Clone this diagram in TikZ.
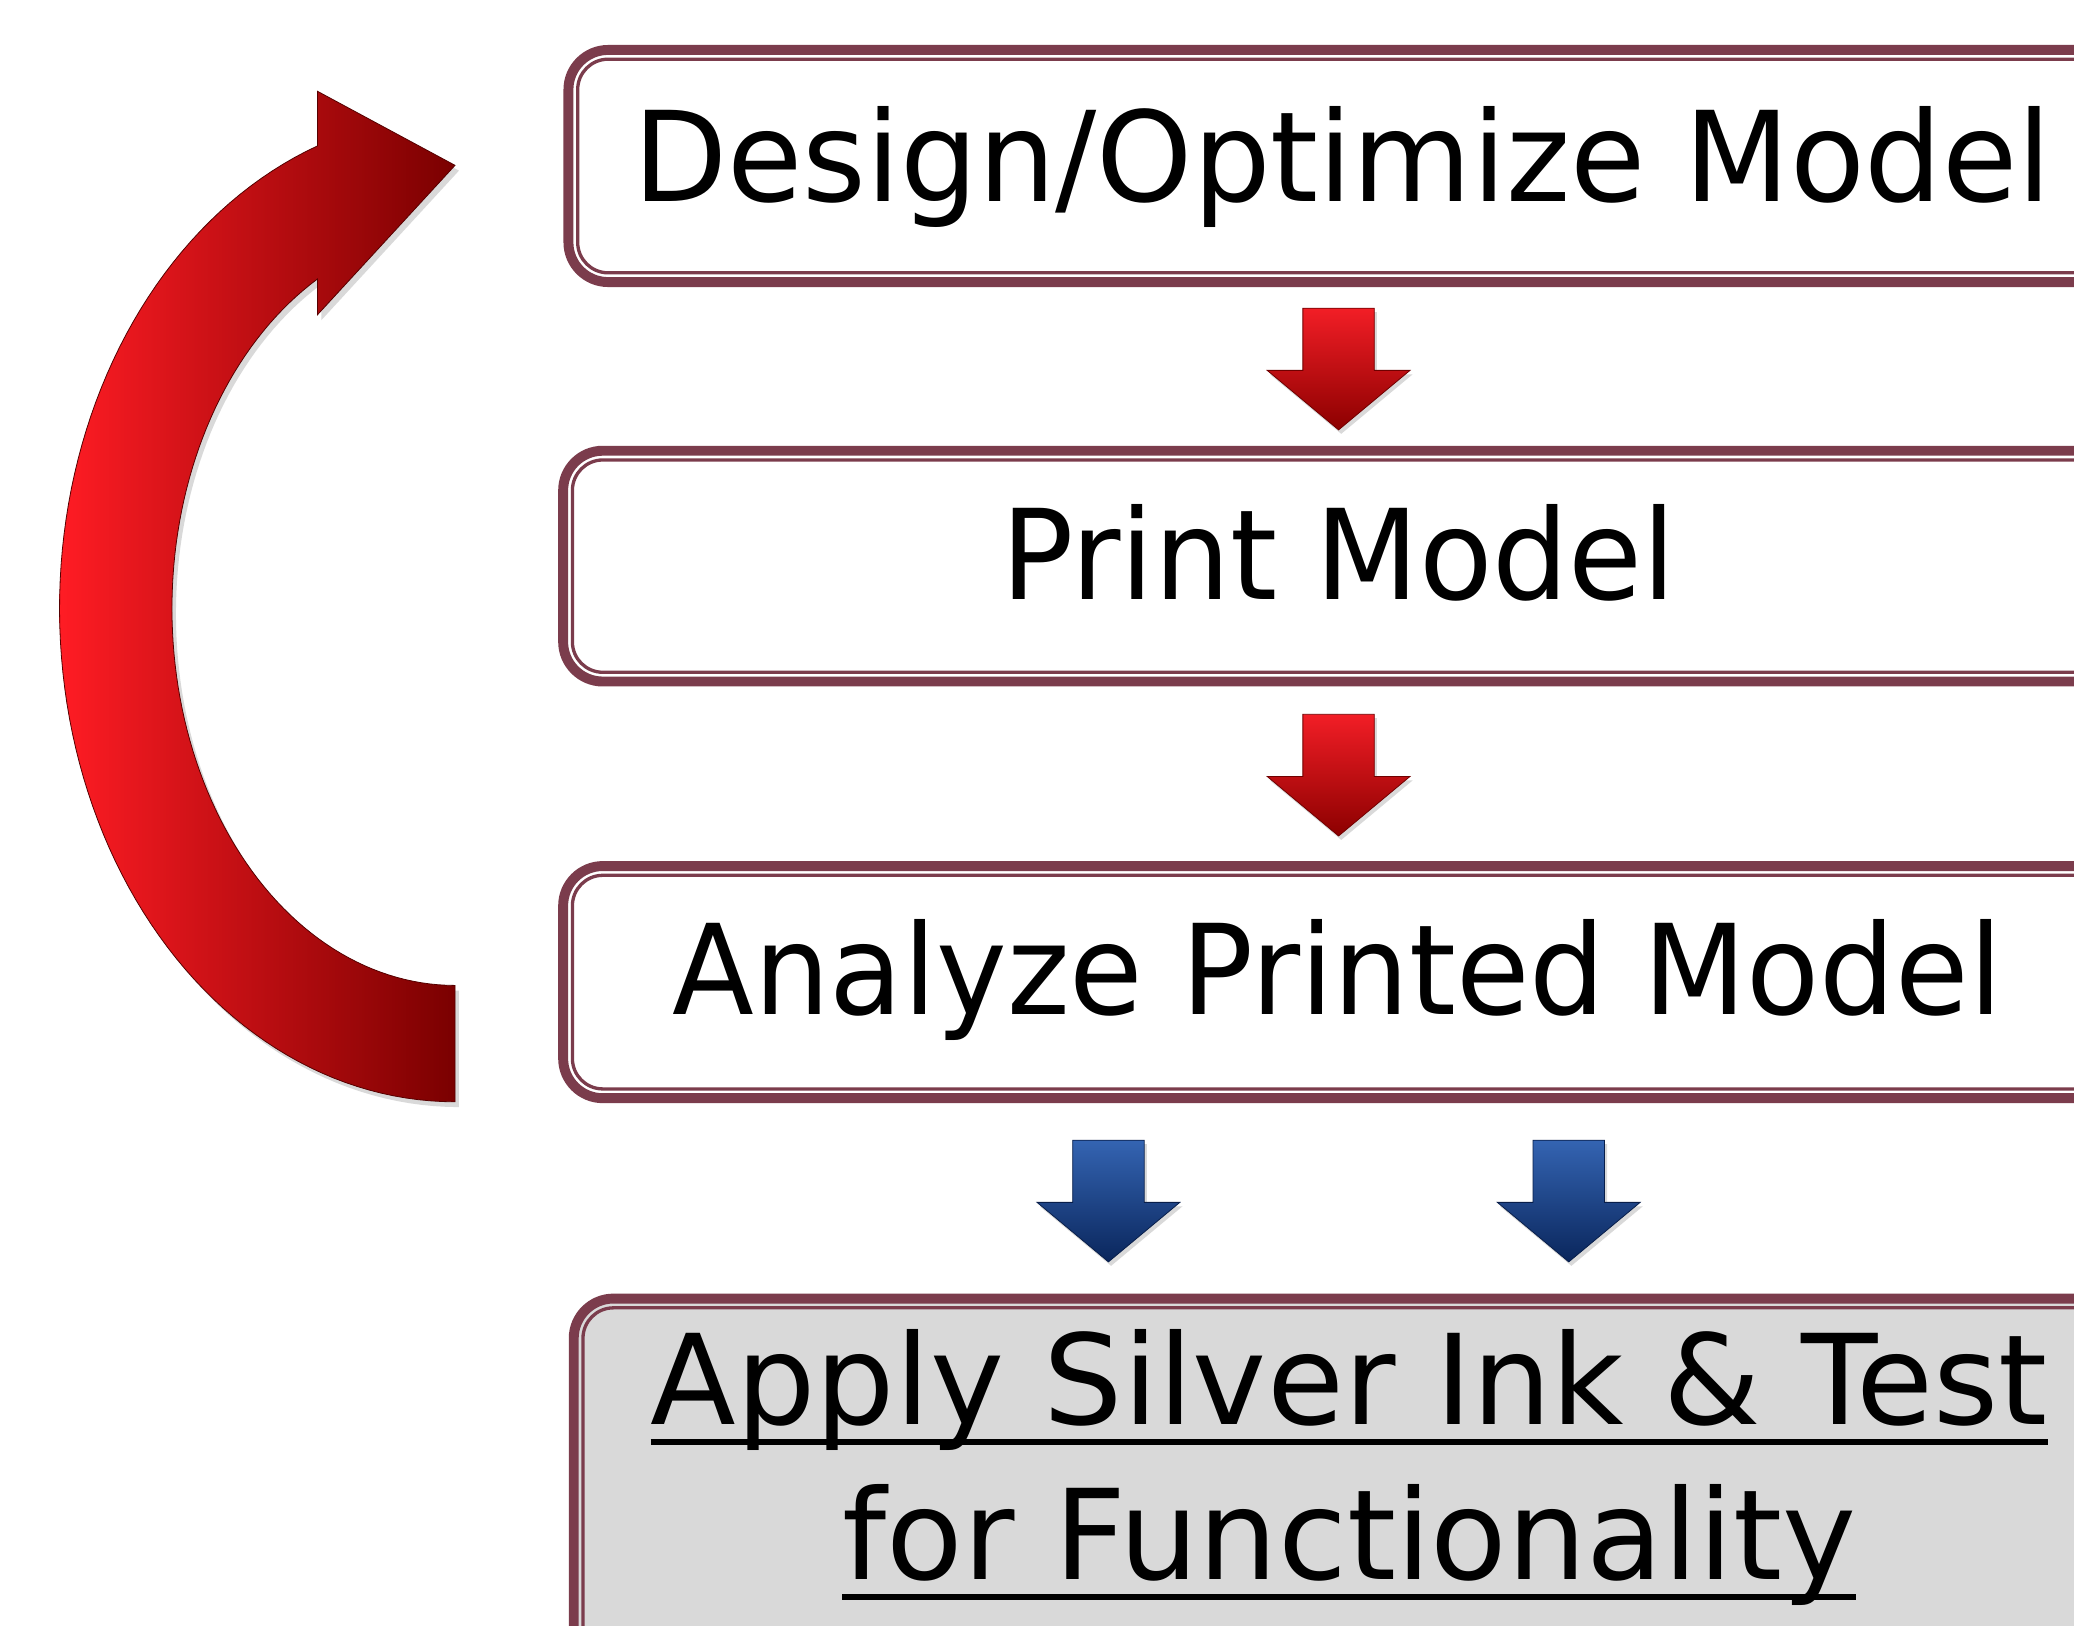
\documentclass[tikz,border=0pt]{standalone}
\usepackage{fontspec}
\setmainfont{DejaVu Sans}
\definecolor{boxc}{RGB}{123,60,76}
\definecolor{greyfill}{RGB}{217,217,217}
\definecolor{redtop}{RGB}{242,30,38}
\definecolor{redmid}{RGB}{215,0,5}
\definecolor{redbot}{RGB}{140,0,0}
\definecolor{curvel}{RGB}{255,28,36}
\definecolor{curvem}{RGB}{215,0,4}
\definecolor{curver}{RGB}{122,0,0}
\definecolor{bluetop}{RGB}{52,100,178}
\definecolor{bluebot}{RGB}{10,38,92}
\tikzset{
  boxthick/.style={draw=boxc, line width=7.5pt, rounded corners=30pt},
  boxthin/.style={draw=boxc, line width=2.5pt, rounded corners=23pt},
  steplabel/.style={font=\fontsize{94.6}{113}\selectfont, inner sep=0pt, anchor=base},
  redarrow/.style={top color=redtop, middle color=redmid, bottom color=redbot, draw=redbot!80!black, line width=0.6pt},
  bluearrow/.style={top color=bluetop, bottom color=bluebot, draw=bluebot!80!black, line width=0.6pt},
  softshadow/.style={fill=black, opacity=0.15},
  curvefill/.style={left color=curvel, middle color=curvem, right color=curver, draw=curver!70!black, line width=0.6pt},
  uline/.style={line width=4.5pt}
}
\newcommand\blockdownarrow[3]{%
  \fill[softshadow] ({#1-27+2},{#2+3}) -- ({#1+27+2},{#2+3}) -- ({#1+27+2},{#2+47+3}) -- ({#1+54+2},{#2+47+3}) -- ({#1+2},{#2+92+3}) -- ({#1-54+2},{#2+47+3}) -- ({#1-27+2},{#2+47+3}) -- cycle;
  \path[#3] ({#1-27},{#2}) -- ({#1+27},{#2}) -- ({#1+27},{#2+47}) -- ({#1+54},{#2+47}) -- ({#1},{#2+92}) -- ({#1-54},{#2+47}) -- ({#1-27},{#2+47}) -- cycle;
}
\newcommand\stepframe[4]{%
  \path[boxthick, fill=#4] ({#1+3.75},{#2+3.75}) rectangle (1650,{#3-3.75});
  \path[boxthin] ({#1+10.75},{#2+10.75}) rectangle (1650,{#3-10.75});
}
\newcommand\loopshape[1]{%
  \path[#1] plot[domain=90:249.65, samples=90, variable=\t] ({344+299*cos(\t)},{460+373*sin(\t)})
    -- (240,69) -- (344,125) -- (240,238)
    -- plot[domain=240.92:90, samples=90, variable=\t] ({344+214*cos(\t)},{460+285*sin(\t)}) -- cycle;
}
\begin{document}
\begin{tikzpicture}[x=1pt,y=-1pt]
\useasboundingbox (0,0) rectangle (1568,1229);
\clip (0,0) rectangle (1568,1229);
\fill[white] (0,0) rectangle (1568,1229);

% frames
\stepframe{426}{34}{217}{white}
\stepframe{422}{337}{519}{white}
\stepframe{422}{651}{834}{white}
\stepframe{430}{978}{1300}{greyfill}

% labels
\node[steplabel] (t1) at (1015,152) {\scalebox{0.978}[1]{Design/Optimize Model}};
\node[steplabel] (t2) at (1012,453) {\scalebox{0.96}[1]{Print Model}};
\node[steplabel] (t3) at (1011,767) {\scalebox{0.955}[1]{Analyze Printed Model}};
\node[steplabel] (t4a) at (1020,1077) {Apply Silver Ink \& Test};
\node[steplabel] (t4b) at (1020,1194) {for Functionality};
\draw[uline] ([yshift=-13pt]t4a.base west) -- ([yshift=-13pt]t4a.base east);
\draw[uline] ([yshift=-13pt]t4b.base west) -- ([yshift=-13pt]t4b.base east);

% down arrows
\blockdownarrow{1012}{233}{redarrow}
\blockdownarrow{1012}{540}{redarrow}
\blockdownarrow{838}{862}{bluearrow}
\blockdownarrow{1186}{862}{bluearrow}

% loop arrow
\begin{scope}[xshift=3pt,yshift=-4pt]
\loopshape{softshadow}
\end{scope}
\loopshape{curvefill}
\end{tikzpicture}
\end{document}
